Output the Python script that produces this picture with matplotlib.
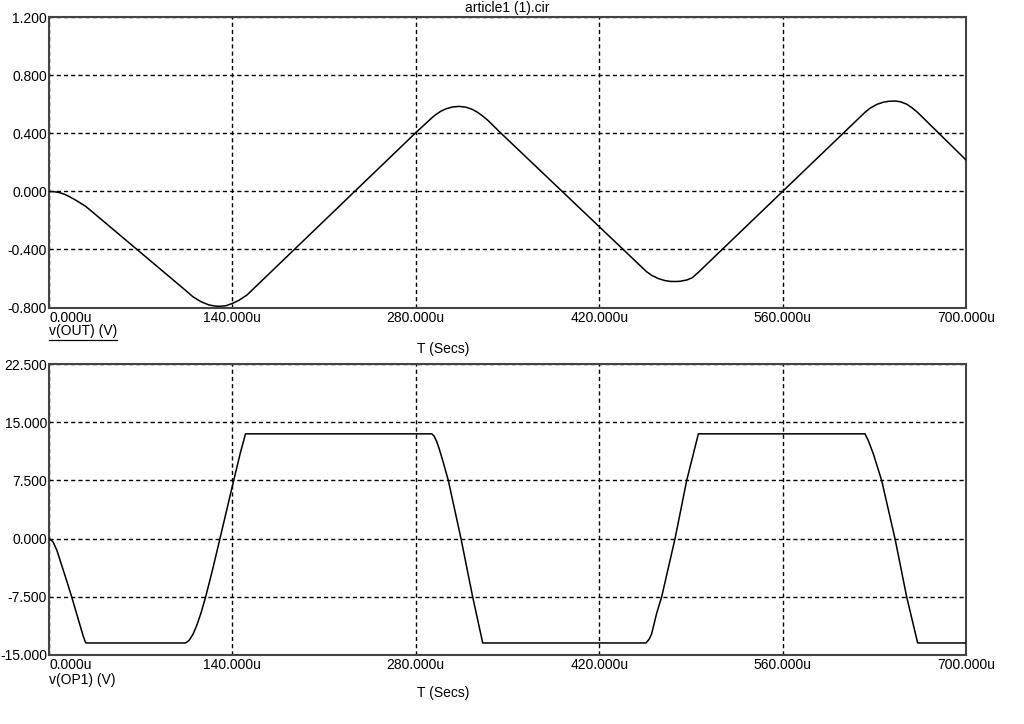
import matplotlib
matplotlib.use('Agg')
import matplotlib.pyplot as plt
from matplotlib.lines import Line2D

plt.rcParams['font.family'] = ['Liberation Sans', 'DejaVu Sans']

# ---- data (time in microseconds, volts) ----
out_t = [0, 4, 8, 12, 16, 20, 24, 28, 34, 104, 110, 116, 122, 126, 130, 135, 140, 145, 151,
         280, 292, 295, 299, 303, 308, 313, 318, 323, 327, 331, 335, 344,
         456, 460, 465, 470, 474, 478, 482, 487, 491, 496,
         560, 623, 627, 632, 637, 641, 646, 650, 655, 659, 663, 700]
out_v = [0.0, -0.002, -0.008, -0.02, -0.038, -0.058, -0.08, -0.103, -0.148, -0.68, -0.727, -0.76,
         -0.782, -0.789, -0.792, -0.788, -0.772, -0.75, -0.715,
         0.405, 0.505, 0.528, 0.552, 0.569, 0.582, 0.586, 0.581, 0.566, 0.546, 0.52, 0.49, 0.41,
         -0.552, -0.578, -0.60, -0.614, -0.62, -0.621, -0.619, -0.61, -0.595, -0.555,
         0.0, 0.546, 0.575, 0.60, 0.615, 0.621, 0.623, 0.618, 0.60, 0.575, 0.545, 0.217]

op1_t = [0, 3, 6, 10, 14, 17.3, 22, 26, 28,
         104.3, 107, 110, 113, 116, 119.6, 125, 130.5, 141, 146, 150,
         292.3, 294, 296, 298, 301, 304.8, 314.5, 323.4, 331.1,
         455.7, 458, 460, 463.9, 467.7, 477.9, 486.8, 495.7,
         622.9, 625.5, 629.3, 635.6, 645.8, 654.7, 663.1, 700]
op1_v = [0.0, -0.4, -1.5, -3.6, -5.7, -7.5, -10.2, -12.5, -13.45,
         -13.45, -13.1, -12.3, -11.1, -9.6, -7.5, -3.9, 0.0, 7.5, 11.0, 13.5,
         13.5, 13.2, 12.5, 11.5, 9.8, 7.5, 0.0, -7.5, -13.45,
         -13.45, -13.0, -12.3, -9.6, -7.5, 0.0, 7.5, 13.5,
         13.5, 12.6, 10.9, 7.5, 0.0, -7.5, -13.45, -13.45]

x_ticks = [0, 140, 280, 420, 560, 700]
x_labels = ['0.000u', '140.000u', '280.000u', '420.000u', '560.000u', '700.000u']
top_yticks = [-0.8, -0.4, 0.0, 0.4, 0.8, 1.2]
top_ylabels = ['-0.800', '-0.400', '0.000', '0.400', '0.800', '1.200']
bot_yticks = [-15, -7.5, 0, 7.5, 15, 22.5]
bot_ylabels = ['-15.000', '-7.500', '0.000', '7.500', '15.000', '22.500']

title = 'article1 (1).cir'
x_title = 'T (Secs)'
top_name = 'v(OUT) (V)'
bot_name = 'v(OP1) (V)'

W, H = 1024, 724
fig = plt.figure(figsize=(W / 100, H / 100), dpi=100)
fig.patch.set_facecolor('white')


def rect(l, t, r, b):
    return [l / W, 1 - b / H, (r - l) / W, (b - t) / H]


def fx(x):
    return x / W


def fy(y):
    return 1 - y / H


FS = 10
ax1 = fig.add_axes(rect(49, 17.3, 966, 307.5))
ax2 = fig.add_axes(rect(49, 364, 966, 655))

for ax, t, v, yt, yl in [(ax1, out_t, out_v, top_yticks, top_ylabels),
                         (ax2, op1_t, op1_v, bot_yticks, bot_ylabels)]:
    ax.plot(t, v, color='black', lw=1.1, zorder=3)
    ax.set_xlim(x_ticks[0], x_ticks[-1])
    ax.set_ylim(yt[0], yt[-1])
    ax.set_xticks(x_ticks)
    ax.set_xticklabels(x_labels)
    ax.set_yticks(yt)
    ax.set_yticklabels(yl)
    ax.grid(True, color='black', linestyle=(0, (3, 2.2)), lw=1.0)
    ax.tick_params(length=0, labelsize=FS, colors='black', pad=1.5)
    ax.tick_params(axis='x', pad=2.5)
    for s in ax.spines.values():
        s.set_color('#444444')
        s.set_linewidth(1.5)
    labs = ax.get_xticklabels()
    labs[0].set_horizontalalignment('left')

fig.text(fx(507), fy(8), title, ha='center', va='center', fontsize=FS)
fig.text(fx(443), fy(349.5), x_title, ha='center', va='center', fontsize=FS)
fig.text(fx(443), fy(693), x_title, ha='center', va='center', fontsize=FS)
t1 = fig.text(fx(49), fy(331), top_name, ha='left', va='center', fontsize=FS)
fig.text(fx(49), fy(680), bot_name, ha='left', va='center', fontsize=FS)

fig.canvas.draw()
bb = t1.get_window_extent()
fig.add_artist(Line2D([bb.x0 / W, bb.x1 / W], [fy(340), fy(340)],
                      transform=fig.transFigure, color='black', lw=0.9))

fig.savefig('out.png', dpi=100, facecolor='white')
